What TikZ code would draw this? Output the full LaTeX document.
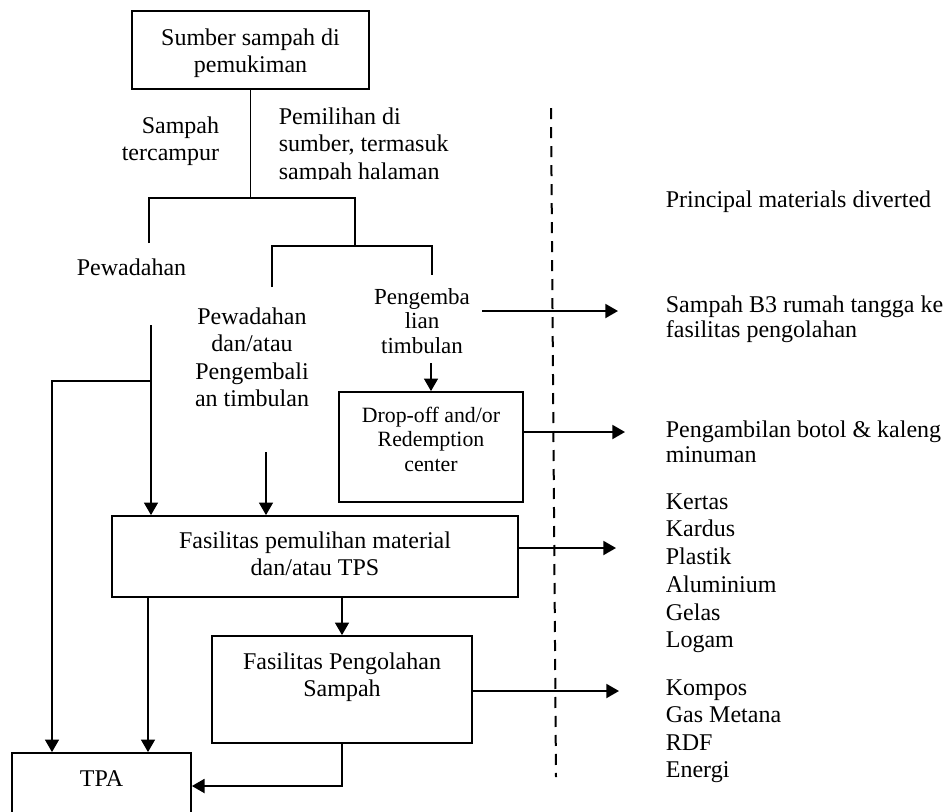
\documentclass[tikz,border=0pt]{standalone}
\usepackage{fontspec}
\setmainfont{Liberation Serif}
\usetikzlibrary{arrows.meta}
% lines of text stacked in a top-aligned tabular: [row stretch]{column type}{lines}
\newcommand\txtlines[3][1]{{\renewcommand\arraystretch{#1}\begin{tabular}[t]{@{}#2@{}}#3\end{tabular}}}
\begin{document}
\begin{tikzpicture}[x=0.5pt,y=-0.5pt,line width=0.9pt,
  >={Triangle[length=6.3pt,width=7pt]},
  font=\fontsize{12}{13.8}\selectfont,
  box/.style={draw,inner sep=0pt,anchor=base},
  lbl/.style={inner sep=0pt},
  divider/.style={dash pattern=on 5.5pt off 4pt,line width=1pt}]
\clip (0,0) rectangle (949,811);

% boxes
\node[box,minimum width=118.5pt,text height=17pt,text depth=22pt] (src) at (250.5,45)
  {\txtlines[0.98]{c}{Sumber sampah di\\pemukiman}};
\node[box,minimum width=92pt,text height=15pt,text depth=40pt,font=\fontsize{10.9}{12.25}\selectfont] (drop) at (431,422)
  {\txtlines{c}{Drop-off and/or\\Redemption\\center}};
\node[box,minimum width=203pt,text height=16pt,text depth=24.5pt] (fas) at (315,548)
  {\txtlines[0.98]{c}{Fasilitas pemulihan material\\dan/atau TPS}};
\node[box,minimum width=130pt,text height=16.5pt,text depth=37pt] (olah) at (342,669)
  {\txtlines[0.98]{c}{Fasilitas Pengolahan\\Sampah}};
\node[box,minimum width=89.5pt,text height=16.5pt,text depth=30pt] (tpa) at (101.5,786) {TPA};

% labels along the left-hand flows
\node[lbl,anchor=base east] (mixed) at (220,133) {\txtlines[0.98]{r}{Sampah\\tercampur}};
\begin{scope}
  \clip (250,90) rectangle (480,179);
  \node[lbl,anchor=base west] (sorted) at (278,124) {\txtlines[1.01]{l}{Pemilihan di\\sumber, termasuk\\sampah halaman}};
\end{scope}
\node[lbl,anchor=base west] (pew) at (76,275) {Pewadahan};
\node[lbl,anchor=base] (pew2) at (252,324) {\txtlines{c}{Pewadahan\\dan/atau\\Pengembali\\an timbulan}};
\node[lbl,anchor=base,font=\fontsize{11.5}{12.25}\selectfont] (kembali) at (422,304) {\txtlines{c}{Pengemba\\lian\\timbulan}};

% materials diverted, right of the divider
\node[lbl,anchor=base west] (principal) at (665,207) {Principal materials diverted};
\node[lbl,anchor=base west] (b3) at (665,312) {\txtlines[0.93]{l}{Sampah B3 rumah tangga ke\\fasilitas pengolahan}};
\node[lbl,anchor=base west] (botol) at (665,437) {\txtlines[0.94]{l}{Pengambilan botol \& kaleng\\minuman}};
\node[lbl,anchor=base west] (daur) at (665,509) {\txtlines[1.007]{l}{Kertas\\Kardus\\Plastik\\Aluminium\\Gelas\\Logam}};
\node[lbl,anchor=base west] (produk) at (665,695) {\txtlines[1.0]{l}{Kompos\\Gas Metana\\RDF\\Energi}};

% branching below the source
\coordinate (j1) at (250.5,198);
\coordinate (pewTop) at (149,243);
\coordinate (j2) at (355,246);
\coordinate (pw2Top) at (272,287);
\coordinate (kbTop) at (432,275);
\draw (src.south) -- (j1);
\draw (pewTop) |- (j1) -| (j2);
\draw (pw2Top) |- (j2) -| (kbTop);

% flows into the recovery facility and the landfill
\coordinate (kbBot) at (431,363);
\draw[->] (kbBot) -- (drop.north);
\coordinate (pewBot) at (151,325);
\coordinate (pewSplit) at (151,381);
\coordinate (leftLane) at (52,381);
\draw[->] (pewBot) -- (pewBot |- fas.north);
\draw[->] (pewSplit) -- (leftLane) -- (leftLane |- tpa.north);
\coordinate (pw2Bot) at (266,452);
\draw[->] (pw2Bot) -- (pw2Bot |- fas.north);
\coordinate (fasLane) at (148,597);
\draw[->] (fasLane) -- (fasLane |- tpa.north);
\draw[->] (fas.south -| olah.north) -- (olah.north);
\draw[->] (olah.south) |- (tpa.base east);

% diverted material arrows
\coordinate (b3Start) at (482,311);
\coordinate (b3End) at (618,311);
\draw[->] (b3Start) -- (b3End);
\coordinate (dropArr) at (625,432);
\draw[->] (dropArr -| drop.east) -- (dropArr);
\coordinate (fasArr) at (616,548);
\draw[->] (fasArr -| fas.east) -- (fasArr);
\coordinate (olahArr) at (619,691);
\draw[->] (olahArr -| olah.east) -- (olahArr);

% dashed divider
\coordinate (divTop) at (551,108);
\coordinate (divBot) at (556,777);
\draw[divider] (divTop) -- (divBot);
\end{tikzpicture}
\end{document}
